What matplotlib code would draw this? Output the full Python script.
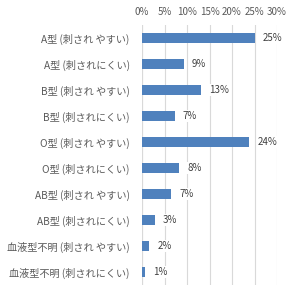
import matplotlib
matplotlib.use("Agg")
import matplotlib.pyplot as plt

plt.rcParams['font.family'] = ['Noto Sans CJK JP', 'DejaVu Sans']

categories = ["A型 (刺され やすい)", "A型 (刺されにくい)", "B型 (刺され やすい)", "B型 (刺されにくい)",
              "O型 (刺され やすい)", "O型 (刺されにくい)", "AB型 (刺され やすい)", "AB型 (刺されにくい)",
              "血液型不明 (刺され やすい)", "血液型不明 (刺されにくい)"]
values = [25.1, 9.3, 13.1, 7.3, 23.8, 8.2, 6.5, 2.9, 1.6, 0.7]
labels = ["25%", "9%", "13%", "7%", "24%", "8%", "7%", "3%", "2%", "1%"]
ticks = [0, 5, 10, 15, 20, 25, 30]
tick_labels = ["0%", "5%", "10%", "15%", "20%", "25%", "30%"]

fig = plt.figure(figsize=(3.0, 2.96), dpi=100)
ax = fig.add_axes([142/300, 1-285/296, 135/300, 260/296])
y = list(range(len(categories)))
ax.barh(y, values, height=0.35, color="#4f81bd", zorder=3)
ax.set_ylim(len(categories)-0.5, -0.5)
ax.set_xlim(0, 30)
ax.set_xticks(ticks)
ax.set_xticklabels(tick_labels)
ax.xaxis.tick_top()
ax.set_yticks(y)
ax.set_yticklabels(categories)
ax.tick_params(axis='both', length=0, labelsize=7, colors="#595959")
ax.tick_params(axis='x', pad=6)
ax.tick_params(axis='y', pad=9, labelsize=7.3)
ax.grid(axis='x', color="#d9d9d9", linewidth=0.8, zorder=0)
for s in ax.spines.values():
    s.set_visible(False)
ax.axvline(0, color="#d9d9d9", linewidth=0.8, zorder=1)
for yi, v, l in zip(y, values, labels):
    ax.text(v + 1.8, yi, l, va='center', ha='left', fontsize=7, color="#404040", zorder=4,
            bbox=dict(facecolor='white', edgecolor='none', pad=0.5))
fig.savefig("out.png", dpi=100)
